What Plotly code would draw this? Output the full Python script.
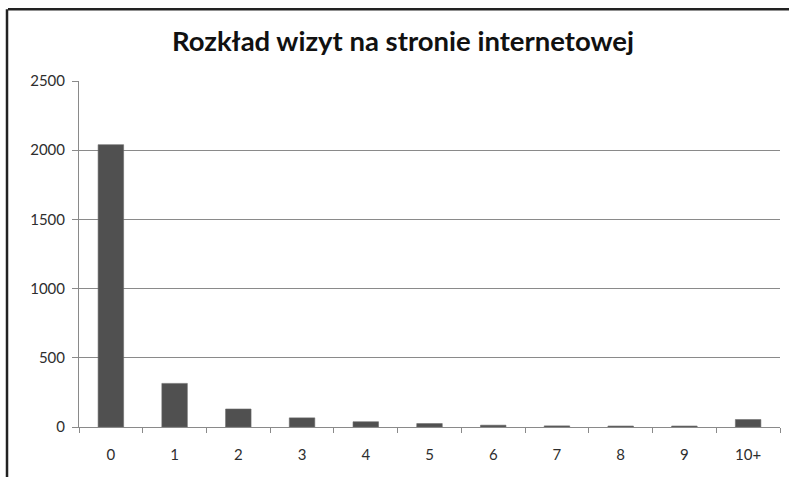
import plotly.graph_objects as go

# Visit counts per number of visits
categories = ["0", "1", "2", "3", "4", "5", "6", "7", "8", "9", "10+"]
visits = [2040, 315, 130, 66, 38, 25, 13, 8, 7, 7, 54]
y_ticks = [0, 500, 1000, 1500, 2000, 2500]

title_text = "Rozkład wizyt na stronie internetowej"

bar_color = "#505050"
grid_color = "#8a8a8a"
text_color = "#2e2e2e"
font_family = "Lato, 'Open Sans', sans-serif"

fig = go.Figure(
    go.Bar(
        x=categories,
        y=visits,
        marker=dict(color=bar_color, line=dict(color="#6a6a6a", width=0.6)),
        width=0.4,
    )
)

fig.update_layout(
    width=789,
    height=477,
    margin=dict(l=79, r=9, t=81, b=50),
    paper_bgcolor="white",
    plot_bgcolor="white",
    showlegend=False,
    title=dict(
        text=title_text,
        x=403 / 789,
        xanchor="center",
        y=1 - 41 / 477,
        yanchor="middle",
        font=dict(family=font_family, size=27.5, color="#111111", weight="bold"),
    ),
    font=dict(family=font_family, size=15, color=text_color),
)

fig.update_xaxes(
    type="category",
    showgrid=False,
    showline=True,
    linecolor=grid_color,
    linewidth=1,
    ticks="outside",
    tickson="boundaries",
    ticklen=5,
    tickcolor=grid_color,
    tickfont=dict(size=15, color=text_color),
    ticklabelstandoff=14,
)

fig.update_yaxes(
    range=[0, 2500],
    tickvals=y_ticks,
    showgrid=True,
    gridcolor=grid_color,
    gridwidth=1,
    showline=True,
    linecolor=grid_color,
    linewidth=1,
    ticks="outside",
    ticklen=6,
    tickcolor=grid_color,
    tickfont=dict(size=15, color=text_color),
    ticklabelstandoff=4,
    zeroline=False,
)

# Dark chart frame along the top and left edges
fig.add_shape(
    type="line", xref="paper", yref="paper",
    x0=-0.1013, x1=1.02, y0=1.2075, y1=1.2075,
    line=dict(color="#222222", width=2.5),
)
fig.add_shape(
    type="line", xref="paper", yref="paper",
    x0=-0.1027, x1=-0.1027, y0=1.2075, y1=-0.2,
    line=dict(color="#222222", width=2.5),
)

fig.write_html("out.html")
